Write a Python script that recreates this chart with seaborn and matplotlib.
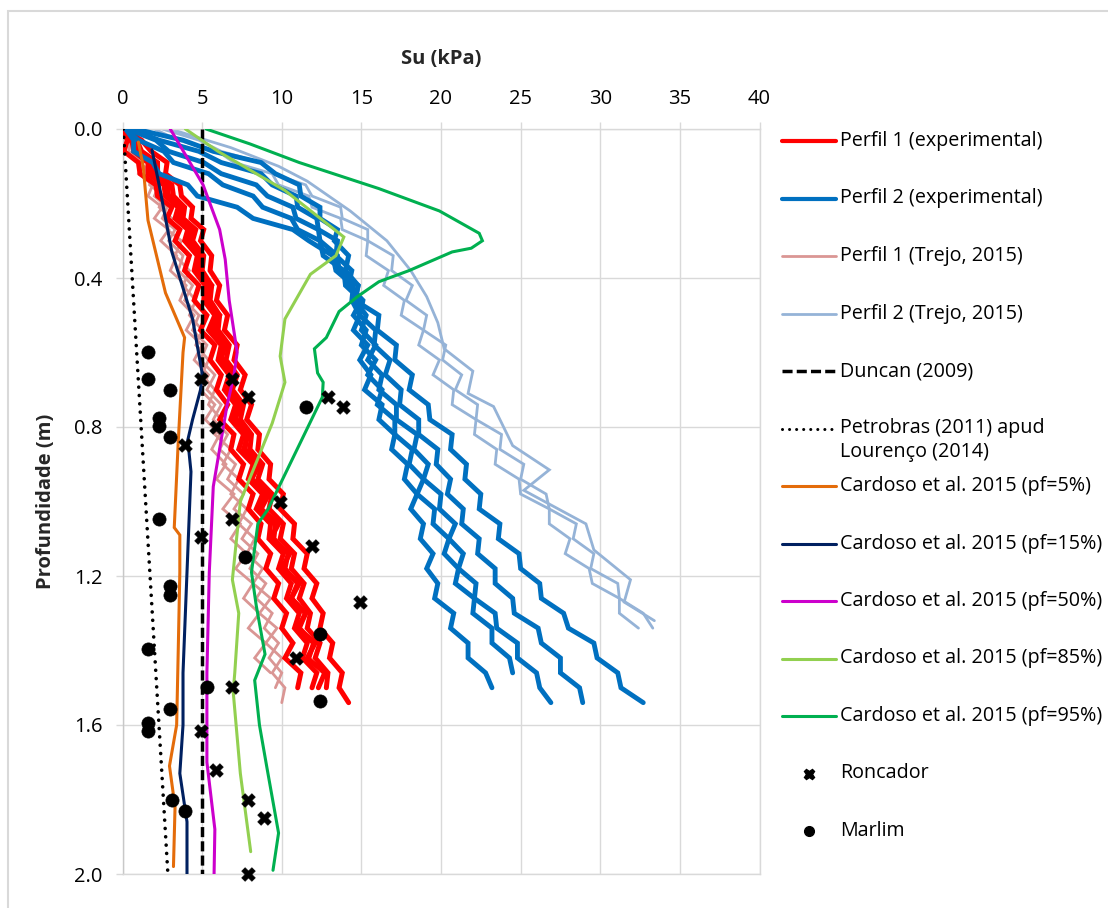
import matplotlib
matplotlib.use("Agg")
import matplotlib.pyplot as plt
import seaborn as sns
from matplotlib.patches import Rectangle

sns.set_theme(style="white")
plt.rcParams['font.family'] = ['Open Sans', 'DejaVu Sans']

# ---------------- data ----------------
# common depth list (m) for the experimental / Trejo profiles
z_prof = [0.00, 0.03, 0.06, 0.09, 0.12, 0.15, 0.18, 0.21, 0.24, 0.27, 0.30, 0.34, 0.38, 0.42,
          0.46, 0.50, 0.54, 0.58, 0.62, 0.66, 0.70, 0.74, 0.78, 0.82, 0.86, 0.90, 0.94, 0.98,
          1.02, 1.06, 1.10, 1.14, 1.18, 1.22, 1.26, 1.30, 1.34, 1.38, 1.42, 1.46, 1.50, 1.54]

# Perfil 1 (experimental) - red
red_1 = [0.0, 0.3, 0.1, 1.0, 1.1, 2.1, 2.2, 3.1, 2.8, 3.6, 3.3, 4.2, 3.9, 4.8, 4.5, 5.3, 4.9, 5.8,
         5.5, 6.2, 5.9, 6.6, 6.1, 7.0, 6.8, 7.6, 7.3, 8.2, 7.9, 8.7, 8.5, 9.3, 9.0, 9.8, 9.5, 10.3,
         10.0, 10.7, 10.2, 11.2, 11.0]
red_2 = [0.0, 0.6, 0.7, 1.6, 1.6, 2.6, 2.7, 3.5, 3.3, 4.1, 3.9, 4.7, 4.5, 5.2, 5.1, 5.8, 5.4, 6.2,
         6.0, 6.7, 6.4, 7.1, 6.8, 7.6, 7.3, 8.2, 7.9, 8.8, 8.4, 9.3, 9.2, 10.1, 9.8, 10.6, 10.3, 11.1,
         10.8, 11.6, 11.3, 12.2, 11.9]
red_3 = [0.0, 0.9, 1.2, 2.2, 2.2, 3.1, 3.2, 3.9, 3.8, 4.6, 4.4, 5.1, 5.0, 5.6, 5.5, 6.1, 6.0, 6.7,
         6.5, 7.2, 6.9, 7.6, 7.4, 8.1, 8.0, 8.8, 8.5, 9.4, 9.2, 10.1, 9.9, 10.8, 10.6, 11.4, 11.1, 11.8,
         11.6, 12.4, 12.1, 12.9, 12.8]
red_4 = [0.0, 1.2, 1.8, 2.8, 2.7, 3.6, 3.7, 4.4, 4.3, 5.1, 4.9, 5.6, 5.5, 6.1, 5.9, 6.6, 6.4, 7.2,
         7.0, 7.7, 7.4, 8.1, 7.8, 8.6, 8.5, 9.3, 9.2, 10.1, 9.9, 10.8, 10.7, 11.6, 11.4, 12.2, 11.9, 12.6,
         12.4, 13.2, 13.0, 13.8, 13.6, 14.2]
red_5 = [0.0, 0.5, 1.0, 1.9, 1.9, 2.8, 2.9, 3.7, 3.5, 4.3, 4.2, 4.9, 4.7, 5.4, 5.3, 5.9, 5.7, 6.4,
         6.2, 7.0, 6.7, 7.3, 7.1, 7.8, 7.7, 8.5, 8.1, 9.0, 8.7, 9.6, 9.5, 10.4, 10.2, 11.0, 10.6, 11.5,
         11.1, 12.0, 11.7]
red_6 = [0.0, 0.9, 0.8, 1.9, 1.8, 2.9, 2.8, 3.7, 3.5, 4.4, 4.1, 5.0, 4.7, 5.6, 5.2, 6.1, 5.7, 6.5,
         6.1, 7.0, 6.6, 7.5, 7.0, 7.9, 7.6, 8.6, 8.1, 9.2, 8.7, 9.8, 9.3, 10.5, 10.0, 11.1, 10.6, 11.5,
         11.0, 12.1, 11.6, 12.7, 12.3]

# Perfil 2 (experimental) - blue
blue_1 = [0.8, 3.8, 5.7, 8.7, 9.6, 11.1, 11.2, 12.4, 12.4, 13.5, 13.3, 14.2, 14.0, 14.8, 14.6,
          16.1, 16.0, 17.2, 17.1, 18.2, 18.0, 19.2, 19.3, 20.7, 20.6, 21.6, 21.5, 22.5, 22.4, 23.7,
          23.6, 24.9, 25.0, 26.2, 26.3, 27.7, 28.0, 29.6, 29.8, 31.1, 31.3, 32.7]
blue_2 = [0.5, 2.3, 4.8, 6.2, 8.7, 9.4, 10.9, 11.0, 12.2, 12.3, 13.5, 13.4, 14.4, 14.2, 15.1,
          14.9, 15.9, 15.8, 16.8, 16.5, 17.5, 17.4, 18.6, 18.6, 19.8, 19.7, 20.6, 20.4, 21.4, 21.3,
          22.4, 22.3, 23.4, 23.4, 24.5, 24.6, 26.1, 26.3, 27.5, 27.5, 28.7, 28.9]
blue_3 = [0.3, 2.1, 2.9, 5.1, 6.2, 8.4, 9.1, 10.7, 10.9, 12.3, 12.4, 13.5, 13.6, 14.8, 14.6,
          15.3, 15.0, 15.9, 15.4, 16.3, 16.1, 17.2, 17.2, 18.5, 18.3, 19.2, 18.9, 20.0, 19.9, 20.9,
          20.5, 21.4, 21.1, 22.2, 22.1, 23.4, 23.5, 24.8, 24.8, 26.0, 26.2, 26.9]
blue_4 = [0.2, 1.0, 2.6, 3.2, 5.4, 6.3, 8.2, 8.8, 10.6, 11.0, 12.4, 12.6, 13.9, 14.0, 15.0,
          14.5, 15.3, 15.0, 15.9, 15.4, 16.3, 16.0, 17.1, 17.1, 18.2, 18.0, 18.9, 18.5, 19.6, 19.5,
          20.5, 20.2, 21.1, 20.9, 22.1, 22.0, 23.2, 23.2, 24.3, 24.5]
blue_5 = [0.2, 0.7, 0.7, 1.9, 2.3, 4.1, 4.7, 7.2, 8.2, 10.7, 11.7, 13.2, 13.4, 14.5, 14.4,
          14.9, 14.5, 15.4, 14.9, 15.6, 15.2, 16.3, 16.1, 17.1, 16.9, 17.9, 17.7, 18.5, 18.1, 18.9,
          18.7, 19.5, 19.1, 19.8, 19.6, 20.8, 20.6, 21.7, 21.7, 22.8, 23.2]

# Perfil 1 (Trejo, 2015) - pink
pink_1 = [0.0, 0.5, 0.4, 1.3, 1.0, 1.9, 1.6, 2.5, 2.0, 2.9, 2.4, 3.4, 3.0, 4.0, 3.6, 4.5, 4.0, 5.0,
          4.5, 5.4, 4.9, 5.8, 5.2, 6.1, 5.6, 6.5, 5.9, 7.0, 6.3, 7.4, 6.8, 7.8, 7.1, 8.2, 7.6, 8.6,
          7.9, 9.0, 8.3, 9.3]
pink_2 = [0.0, 0.8, 0.7, 1.6, 1.4, 2.3, 2.0, 2.8, 2.5, 3.3, 2.9, 3.8, 3.5, 4.4, 3.9, 4.8, 4.4, 5.3,
          4.9, 5.8, 5.3, 6.2, 5.7, 6.6, 6.1, 7.1, 6.6, 7.6, 7.0, 8.1, 7.5, 8.5, 8.0, 9.0, 8.4, 9.4,
          8.9, 9.8, 9.2, 10.0, 9.6]
pink_3 = [0.0, 0.4, 1.0, 1.1, 1.8, 1.7, 2.6, 2.3, 3.1, 2.8, 3.7, 3.3, 4.2, 3.8, 4.6, 4.2, 5.0, 4.6,
          5.4, 5.0, 5.8, 5.4, 6.2, 5.8, 6.8, 6.3, 7.3, 6.8, 7.8, 7.3, 8.3, 7.8, 8.8, 8.2, 9.3, 8.6,
          9.7, 9.0, 10.0, 9.4, 10.2, 10.0]

# Perfil 2 (Trejo, 2015) - light blue
lblue_1 = [2.0, 3.5, 6.0, 7.0, 9.4, 9.8, 11.7, 11.9, 13.7, 13.8, 15.4, 15.3, 16.7, 16.4, 17.7, 17.5,
           18.9, 18.6, 19.9, 19.5, 20.8, 20.7, 22.2, 22.1, 23.5, 23.4, 24.9, 25.0, 26.8, 26.8, 28.1,
           27.8, 29.3, 29.5, 31.2, 31.2, 32.4]
lblue_2 = [2.5, 4.8, 6.2, 8.7, 9.4, 11.5, 11.9, 13.7, 13.8, 15.4, 15.4, 17.0, 16.9, 18.2, 17.8, 19.1,
           18.9, 20.3, 20.1, 21.3, 20.9, 22.3, 22.2, 23.8, 23.7, 25.2, 25.0, 26.6, 26.8, 28.5, 28.3,
           29.6, 29.4, 31.1, 31.2, 32.7, 33.3]
z_lblue_3 = [0.0, 0.05, 0.10, 0.14, 0.22, 0.30, 0.38, 0.45, 0.52, 0.59, 0.65, 0.71, 0.745, 0.85,
             0.915, 0.97, 1.06, 1.13, 1.21, 1.27, 1.32]
lblue_3 = [3.0, 6.8, 9.8, 11.6, 14.3, 16.6, 18.1, 19.1, 19.8, 20.2, 22.0, 21.7, 23.3, 24.5,
           26.8, 25.2, 29.1, 29.6, 31.9, 31.5, 33.4]

# Duncan (2009)
z_duncan = [0.0, 2.0]
su_duncan = [5.0, 5.0]

# Petrobras (2011) apud Lourenço (2014)
z_petro = [0.0, 2.0]
su_petro = [0.05, 2.85]

# Cardoso et al. 2015
z_pf5 = [0.035, 0.10, 0.245, 0.44, 0.56, 0.60, 0.84, 1.07, 1.09, 1.19, 1.40, 1.60, 1.71, 1.82, 1.98]
su_pf5 = [1.0, 1.3, 1.6, 2.7, 3.9, 3.8, 3.5, 3.25, 3.6, 3.6, 3.5, 3.4, 2.95, 3.3, 3.2]

z_pf15 = [0.056, 0.15, 0.33, 0.51, 0.655, 0.70, 0.78, 0.835, 0.92, 1.19, 1.46, 1.60, 1.73, 1.86, 2.0]
su_pf15 = [1.85, 2.3, 3.1, 4.4, 5.0, 4.9, 4.4, 4.1, 4.3, 4.05, 3.8, 3.8, 3.6, 4.05, 4.05]

z_pf50 = [0.0, 0.15, 0.27, 0.35, 0.46, 0.60, 0.66, 0.745, 0.96, 1.19, 1.46, 1.55, 1.70, 1.88, 2.0]
su_pf50 = [3.0, 5.06, 6.1, 6.45, 6.7, 7.2, 7.0, 6.55, 5.7, 5.45, 5.3, 5.3, 5.3, 5.8, 5.75]

z_pf85 = [0.0, 0.06, 0.165, 0.29, 0.34, 0.39, 0.51, 0.61, 0.68, 0.79, 0.89, 1.0, 1.21, 1.30,
          1.46, 1.51, 1.73, 1.94]
su_pf85 = [3.95, 6.0, 10.2, 13.9, 13.4, 11.8, 10.2, 9.9, 10.2, 9.4, 8.45, 7.4, 6.9, 7.3,
           7.05, 6.95, 7.4, 8.05]

z_pf95 = [0.0, 0.04, 0.09, 0.16, 0.22, 0.28, 0.30, 0.32, 0.33, 0.38, 0.41, 0.45, 0.49, 0.56,
          0.59, 0.655, 0.68, 0.72, 1.02, 1.06, 1.19, 1.28, 1.41, 1.48, 1.60, 1.71, 1.89, 1.99]
su_pf95 = [5.25, 8.0, 11.1, 16.1, 19.9, 22.4, 22.6, 21.9, 20.7, 18.0, 16.1, 14.75, 13.6, 12.8,
           12.05, 12.25, 12.6, 12.55, 9.15, 8.5, 8.1, 8.4, 8.95, 8.3, 8.6, 9.05, 9.8, 9.45]

# Roncador / Marlim points
su_roncador = [4.9, 6.9, 7.9, 12.9, 13.85, 5.9, 3.9, 9.9, 6.9, 4.9, 11.9, 14.9, 10.9, 6.9, 4.9,
               5.9, 7.9, 8.9, 7.9]
z_roncador = [0.67, 0.67, 0.72, 0.72, 0.745, 0.80, 0.847, 1.0, 1.047, 1.096, 1.12, 1.27, 1.42,
              1.497, 1.617, 1.72, 1.80, 1.85, 2.0]
su_marlim = [1.6, 1.6, 3.0, 2.3, 2.3, 3.0, 11.5, 2.3, 7.7, 3.0, 3.0, 12.4, 1.6, 5.3, 12.4, 3.0,
             1.6, 1.6, 3.1, 3.9]
z_marlim = [0.598, 0.67, 0.70, 0.775, 0.797, 0.827, 0.747, 1.047, 1.15, 1.227, 1.25, 1.356,
            1.397, 1.497, 1.535, 1.557, 1.595, 1.616, 1.80, 1.83]

x_ticks = [0, 5, 10, 15, 20, 25, 30, 35, 40]
y_ticks = [0.0, 0.4, 0.8, 1.2, 1.6, 2.0]
y_tick_labels = ["0.0", "0.4", "0.8", "1.2", "1.6", "2.0"]

legend_labels = ["Perfil 1 (experimental)", "Perfil 2 (experimental)", "Perfil 1 (Trejo, 2015)",
                 "Perfil 2 (Trejo, 2015)", "Duncan (2009)", "Petrobras (2011) apud",
                 "Cardoso et al. 2015 (pf=5%)", "Cardoso et al. 2015 (pf=15%)",
                 "Cardoso et al. 2015 (pf=50%)", "Cardoso et al. 2015 (pf=85%)",
                 "Cardoso et al. 2015 (pf=95%)", "Roncador", "Marlim"]
petro_second_line = "Lourenço (2014)"

# ---------------- styles ----------------
C_RED = "#FF0000"
C_BLUE = "#0070C0"
C_PINK = "#DA9694"
C_LBLUE = "#95B3D7"
C_ORANGE = "#E46C0A"
C_NAVY = "#002060"
C_MAGENTA = "#CC00CC"
C_LGREEN = "#92D050"
C_DGREEN = "#00B050"
GRID = "#D9D9D9"
FS_TICK = 14.5
FS_LEG = 14.2

W, H = 1108, 908
fig = plt.figure(figsize=(W / 100, H / 100), dpi=100)
fig.patch.set_facecolor("white")
ax = fig.add_axes([122.5 / W, 1 - 874 / H, 637 / W, 745 / H])


def line(x, y, color, lw, z, **kw):
    sns.lineplot(x=x, y=y[:len(x)], sort=False, estimator=None, ax=ax, color=color,
                 lw=lw, legend=False, zorder=z, solid_joinstyle="miter", **kw)


for s in [pink_1, pink_2, pink_3]:
    line(s, z_prof, C_PINK, 2.0, 2)
for s in [red_1, red_5, red_2, red_6, red_3, red_4]:
    line(s, z_prof, C_RED, 3.6, 3)
for s in [lblue_1, lblue_2]:
    line(s, z_prof, C_LBLUE, 2.0, 2)
line(lblue_3, z_lblue_3, C_LBLUE, 2.0, 2)
for s in [blue_1, blue_2, blue_3, blue_4, blue_5]:
    line(s, z_prof, C_BLUE, 3.5, 3)

line(su_duncan, z_duncan, "black", 2.5, 5, dashes=(2.9, 1.2))
line(su_petro, z_petro, "black", 2.6, 5, dashes=(0.01, 2.3), dash_capstyle="round")
line(su_pf5, z_pf5, C_ORANGE, 2.2, 6)
line(su_pf15, z_pf15, C_NAVY, 2.2, 6)
line(su_pf50, z_pf50, C_MAGENTA, 2.2, 6)
line(su_pf85, z_pf85, C_LGREEN, 2.2, 6)
line(su_pf95, z_pf95, C_DGREEN, 2.2, 6)

sns.scatterplot(x=su_roncador, y=z_roncador, ax=ax, marker="X", s=95, color="black",
                edgecolor="black", linewidth=0.5, zorder=8, legend=False, clip_on=False)
sns.scatterplot(x=su_marlim, y=z_marlim, ax=ax, marker="o", s=90, color="black",
                edgecolor="black", linewidth=0.5, zorder=8, legend=False, clip_on=False)

ax.set_xlim(0, 40)
ax.set_ylim(2.0, 0.0)
ax.xaxis.tick_top()
ax.xaxis.set_label_position("top")
ax.set_xticks(x_ticks)
ax.set_yticks(y_ticks)
ax.set_yticklabels(y_tick_labels)
ax.grid(True, color=GRID, lw=1.0, zorder=0)
ax.set_axisbelow(True)
ax.tick_params(axis="both", which="major", length=5, width=1.0, color=GRID,
               labelsize=FS_TICK, labelcolor="black", pad=9.5, direction="out")
ax.tick_params(axis="x", top=True, bottom=False)
ax.tick_params(axis="y", left=True, right=False)
for side in ["top", "bottom", "left", "right"]:
    ax.spines[side].set_color(GRID)
    ax.spines[side].set_linewidth(1.0)
ax.spines["left"].set_color("#C8C8C8")
ax.set_xlabel("Su (kPa)", fontsize=FS_TICK, fontweight="bold", labelpad=18)
ax.set_ylabel("Profundidade (m)", fontsize=FS_TICK, fontweight="bold", labelpad=13)

# ---------------- legend (drawn manually, Excel-style spacing) ----------------
lax = fig.add_axes([0, 0, 1, 1], zorder=10)
lax.set_xlim(0, W)
lax.set_ylim(H, 0)
lax.axis("off")
lax.patch.set_alpha(0)

row_y0, row_dy = 141, 57.5
hx0, hx1, tx = 782, 836, 840
handles = [
    dict(color=C_RED, lw=3.0),
    dict(color=C_BLUE, lw=3.0),
    dict(color=C_PINK, lw=2.0),
    dict(color=C_LBLUE, lw=2.0),
    dict(color="black", lw=2.5, dashes=(2.9, 1.2)),
    dict(color="black", lw=2.2, dashes=(0.01, 2.3), dash_capstyle="round"),
    dict(color=C_ORANGE, lw=2.2),
    dict(color=C_NAVY, lw=2.2),
    dict(color=C_MAGENTA, lw=2.2),
    dict(color=C_LGREEN, lw=2.2),
    dict(color=C_DGREEN, lw=2.2),
    None, None,
]
for i, (lab, h) in enumerate(zip(legend_labels, handles)):
    y = row_y0 + i * row_dy
    if h is not None:
        lax.plot([hx0, hx1], [y, y], **h)
    elif lab == "Roncador":
        lax.plot([809], [y], marker="X", ms=7.5, color="black", ls="none")
    else:
        lax.plot([809], [y], marker="o", ms=7, color="black", ls="none")
    lax.text(tx, y, lab, fontsize=FS_LEG, va="center", ha="left", color="black")
    if lab.startswith("Petrobras"):
        lax.text(tx, y + 24, petro_second_line, fontsize=FS_LEG, va="center", ha="left",
                 color="black")

# figure frame
fig.add_artist(Rectangle((8 / W, -0.05), 1.2, 1 - 11 / H + 0.05, transform=fig.transFigure,
                         fill=False, edgecolor=GRID, lw=1.5))

fig.savefig("out.png", dpi=100, facecolor="white")
